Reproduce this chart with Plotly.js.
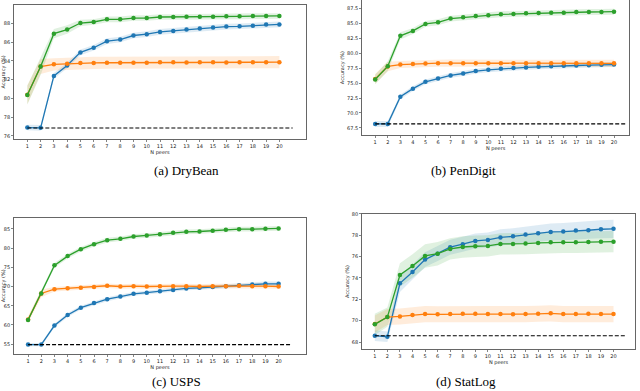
<!DOCTYPE html>
<html>
<head>
<meta charset="utf-8">
<script src="https://cdn.plot.ly/plotly-3.0.1.min.js"></script>
<style>
  body { margin: 0; background: #fff; }
  #chart { width: 640px; height: 391px; }
</style>
</head>
<body>
<div id="chart"></div>
<script>
var peers = [1, 2, 3, 4, 5, 6, 7, 8, 9, 10, 11, 12, 13, 14, 15, 16, 17, 18, 19, 20];
var baselineX = [1, 21];

// DryBean
var dryBlue = [76.9, 76.87, 82.4, 83.5, 84.9, 85.4, 86.1, 86.27, 86.7, 86.84, 87.08, 87.19, 87.33, 87.44, 87.54, 87.65, 87.68, 87.75, 87.86, 87.88];
var dryBlueStd = [0.3, 0.3, 0.3, 0.3, 0.3, 0.3, 0.3, 0.3, 0.3, 0.3, 0.3, 0.3, 0.3, 0.3, 0.3, 0.3, 0.3, 0.3, 0.3, 0.3];
var dryOrange = [80.4, 83.4, 83.63, 83.7, 83.77, 83.78, 83.8, 83.8, 83.8, 83.8, 83.85, 83.85, 83.83, 83.85, 83.85, 83.83, 83.85, 83.86, 83.85, 83.86];
var dryOrangeStd = [1.0, 0.8, 0.65, 0.65, 0.65, 0.65, 0.65, 0.65, 0.65, 0.65, 0.65, 0.65, 0.65, 0.65, 0.65, 0.65, 0.65, 0.65, 0.65, 0.65];
var dryGreen = [80.36, 83.4, 86.9, 87.33, 88.03, 88.14, 88.42, 88.42, 88.56, 88.56, 88.67, 88.67, 88.7, 88.7, 88.7, 88.74, 88.74, 88.77, 88.77, 88.78];
var dryGreenStd = [1.0, 0.9, 0.5, 0.45, 0.35, 0.3, 0.3, 0.3, 0.3, 0.3, 0.3, 0.3, 0.3, 0.3, 0.3, 0.3, 0.3, 0.3, 0.3, 0.3];
var dryBase = 76.85;

// PenDigit
var penBlue = [68.17, 68.17, 72.7, 74.06, 75.2, 75.78, 76.28, 76.6, 77.0, 77.22, 77.39, 77.5, 77.61, 77.72, 77.83, 77.89, 77.94, 78.0, 78.06, 78.1];
var penBlueStd = [0.5, 0.5, 0.4, 0.4, 0.4, 0.4, 0.4, 0.4, 0.4, 0.4, 0.4, 0.4, 0.4, 0.4, 0.4, 0.4, 0.4, 0.4, 0.4, 0.4];
var penOrange = [75.7, 77.78, 78.1, 78.2, 78.28, 78.32, 78.33, 78.33, 78.32, 78.33, 78.33, 78.33, 78.32, 78.32, 78.32, 78.32, 78.32, 78.32, 78.32, 78.3];
var penOrangeStd = [0.8, 0.8, 0.6, 0.6, 0.6, 0.6, 0.6, 0.6, 0.6, 0.6, 0.6, 0.6, 0.6, 0.6, 0.6, 0.6, 0.6, 0.6, 0.6, 0.6];
var penGreen = [75.6, 77.83, 82.9, 83.72, 84.9, 85.17, 85.78, 86.0, 86.22, 86.33, 86.5, 86.56, 86.67, 86.72, 86.78, 86.78, 86.89, 86.89, 86.9, 86.94];
var penGreenStd = [0.8, 0.8, 0.6, 0.5, 0.5, 0.5, 0.5, 0.5, 0.5, 0.5, 0.5, 0.5, 0.5, 0.5, 0.5, 0.5, 0.5, 0.5, 0.5, 0.5];
var penBase = 68.17;

// USPS
var uspsBlue = [54.9, 54.9, 59.85, 62.6, 64.5, 65.7, 66.7, 67.4, 68.1, 68.4, 68.8, 69.1, 69.5, 69.65, 69.9, 70.1, 70.3, 70.5, 70.7, 70.7];
var uspsBlueStd = [0.4, 0.4, 0.5, 0.5, 0.5, 0.5, 0.5, 0.5, 0.5, 0.5, 0.5, 0.5, 0.5, 0.5, 0.5, 0.5, 0.5, 0.5, 0.6, 0.6];
var uspsOrange = [61.4, 68.2, 69.3, 69.56, 69.7, 69.9, 70.2, 70.0, 70.1, 70.0, 70.1, 70.1, 70.1, 70.0, 70.1, 70.1, 70.2, 70.1, 70.1, 70.0];
var uspsOrangeStd = [0.8, 1.0, 0.6, 0.6, 0.6, 0.6, 0.6, 0.6, 0.6, 0.6, 0.6, 0.6, 0.6, 0.6, 0.6, 0.6, 0.6, 0.6, 0.6, 0.6];
var uspsGreen = [61.3, 68.2, 75.5, 77.9, 79.7, 81.0, 82.05, 82.4, 83.0, 83.27, 83.6, 83.96, 84.2, 84.3, 84.5, 84.74, 84.9, 84.9, 85.0, 85.1];
var uspsGreenStd = [0.6, 0.6, 0.6, 0.6, 0.6, 0.6, 0.6, 0.6, 0.6, 0.6, 0.6, 0.6, 0.6, 0.6, 0.6, 0.6, 0.6, 0.6, 0.6, 0.6];
var uspsBase = 54.9;

// StatLog
var statBlue = [68.6, 68.5, 73.5, 74.56, 75.72, 76.28, 76.88, 77.16, 77.47, 77.56, 77.8, 77.9, 78.06, 78.19, 78.31, 78.34, 78.44, 78.47, 78.56, 78.6];
var statBlueStd = [0.5, 0.5, 0.8, 0.7, 0.7, 0.7, 0.7, 0.7, 0.7, 0.7, 0.75, 0.75, 0.75, 0.8, 0.8, 0.8, 0.8, 0.8, 0.85, 0.85];
var statOrange = [69.7, 70.34, 70.4, 70.53, 70.62, 70.6, 70.62, 70.65, 70.65, 70.62, 70.62, 70.6, 70.62, 70.65, 70.69, 70.62, 70.62, 70.65, 70.62, 70.62];
var statOrangeStd = [0.8, 0.75, 0.75, 0.75, 0.75, 0.75, 0.75, 0.75, 0.75, 0.75, 0.75, 0.75, 0.75, 0.75, 0.75, 0.75, 0.75, 0.75, 0.75, 0.75];
var statGreen = [69.66, 70.34, 74.28, 75.12, 76.06, 76.28, 76.72, 76.9, 76.97, 77.0, 77.19, 77.19, 77.22, 77.28, 77.34, 77.34, 77.34, 77.37, 77.4, 77.4];
var statGreenStd = [1.0, 0.9, 1.1, 1.1, 1.1, 1.1, 1.0, 1.0, 1.0, 1.0, 1.0, 1.0, 1.0, 1.0, 1.0, 1.0, 1.0, 1.0, 1.0, 1.0];
var statBase = 68.6;

var colors = ["#1f77b4", "#ff7f0e", "#2ca02c"];
var fills = ["rgba(31,119,180,0.15)", "rgba(255,127,14,0.15)", "rgba(44,160,44,0.15)"];

var data = [];

// one subplot: shaded band + line with markers per series, then the dashed baseline
function addPanel(xa, ya, series, base) {
    series.forEach(function(s, i) {
        var lo = s[0].map(function(v, k) { return v - s[1][k]; });
        var hi = s[0].map(function(v, k) { return v + s[1][k]; });
        data.push({x: peers, y: lo, xaxis: xa, yaxis: ya, mode: "lines",
                   line: {width: 0}, hoverinfo: "skip", showlegend: false});
        data.push({x: peers, y: hi, xaxis: xa, yaxis: ya, mode: "lines",
                   line: {width: 0}, fill: "tonexty", fillcolor: fills[i],
                   hoverinfo: "skip", showlegend: false});
    });
    series.forEach(function(s, i) {
        data.push({x: peers, y: s[0], xaxis: xa, yaxis: ya, mode: "lines+markers",
                   line: {color: colors[i], width: 1.3},
                   marker: {color: colors[i], size: 4.5},
                   showlegend: false});
    });
    data.push({x: baselineX, y: [base, base], xaxis: xa, yaxis: ya, mode: "lines",
               line: {color: "#000", width: 1.1, dash: "4px,2px"}, showlegend: false});
}

addPanel("x", "y", [[dryBlue, dryBlueStd], [dryOrange, dryOrangeStd], [dryGreen, dryGreenStd]], dryBase);
addPanel("x2", "y2", [[penBlue, penBlueStd], [penOrange, penOrangeStd], [penGreen, penGreenStd]], penBase);
addPanel("x3", "y3", [[uspsBlue, uspsBlueStd], [uspsOrange, uspsOrangeStd], [uspsGreen, uspsGreenStd]], uspsBase);
addPanel("x4", "y4", [[statBlue, statBlueStd], [statOrange, statOrangeStd], [statGreen, statGreenStd]], statBase);

var tickFont = {family: "DejaVu Sans", size: 5, color: "#222"};

function xAxis(domain, range, anchor) {
    return {
        domain: domain, range: range, anchor: anchor,
        tickvals: peers, ticks: "outside", ticklen: 2, tickwidth: 0.6, tickcolor: "#333",
        tickfont: tickFont, showgrid: false, zeroline: false,
        showline: true, mirror: true, linecolor: "#666", linewidth: 1,
        title: {text: "N peers", font: {family: "DejaVu Sans", size: 5, color: "#222"}, standoff: 2}
    };
}

function yAxis(domain, range, anchor, dtick, fmt) {
    return {
        domain: domain, range: range, anchor: anchor,
        dtick: dtick, tickformat: fmt, ticks: "outside", ticklen: 2, tickwidth: 0.6, tickcolor: "#333",
        tickfont: tickFont, showgrid: false, zeroline: false,
        showline: true, mirror: true, linecolor: "#666", linewidth: 1,
        title: {text: "Accuracy (%)", font: {family: "DejaVu Sans", size: 5, color: "#222"}, standoff: 2}
    };
}

var captionFont = {family: "Liberation Serif", size: 13, color: "#000"};

var layout = {
    width: 640, height: 391,
    margin: {l: 0, r: 0, t: 0, b: 0},
    paper_bgcolor: "#fff", plot_bgcolor: "#fff",
    showlegend: false,
    xaxis: xAxis([0.022, 0.478], [0, 22], "y"),
    yaxis: yAxis([0.645, 0.987], [75.7, 89.94], "x", 2, "d"),
    xaxis2: xAxis([0.566, 0.983], [-0.03, 21.2], "y2"),
    yaxis2: yAxis([0.655, 0.999], [66.33, 88.83], "x2", 2.5, ".1f"),
    xaxis3: xAxis([0.022, 0.478], [-0.06, 22.07], "y3"),
    yaxis3: yAxis([0.095, 0.443], [52.5, 87.86], "x3", 5, "d"),
    xaxis4: xAxis([0.566, 0.992], [0, 21.7], "y4"),
    yaxis4: yAxis([0.107, 0.453], [67.34, 80.0], "x4", 2, "d"),
    annotations: [
        {text: "(a) DryBean", x: 0.238, y: 0.565, xref: "paper", yref: "paper", showarrow: false, font: captionFont},
        {text: "(b) PenDigit", x: 0.778, y: 0.565, xref: "paper", yref: "paper", showarrow: false, font: captionFont},
        {text: "(c) USPS", x: 0.234, y: 0.0, yanchor: "bottom", xref: "paper", yref: "paper", showarrow: false, font: captionFont},
        {text: "(d) StatLog", x: 0.778, y: 0.0, yanchor: "bottom", xref: "paper", yref: "paper", showarrow: false, font: captionFont}
    ]
};

Plotly.newPlot("chart", data, layout, {displayModeBar: false, staticPlot: true});
</script>
</body>
</html>
